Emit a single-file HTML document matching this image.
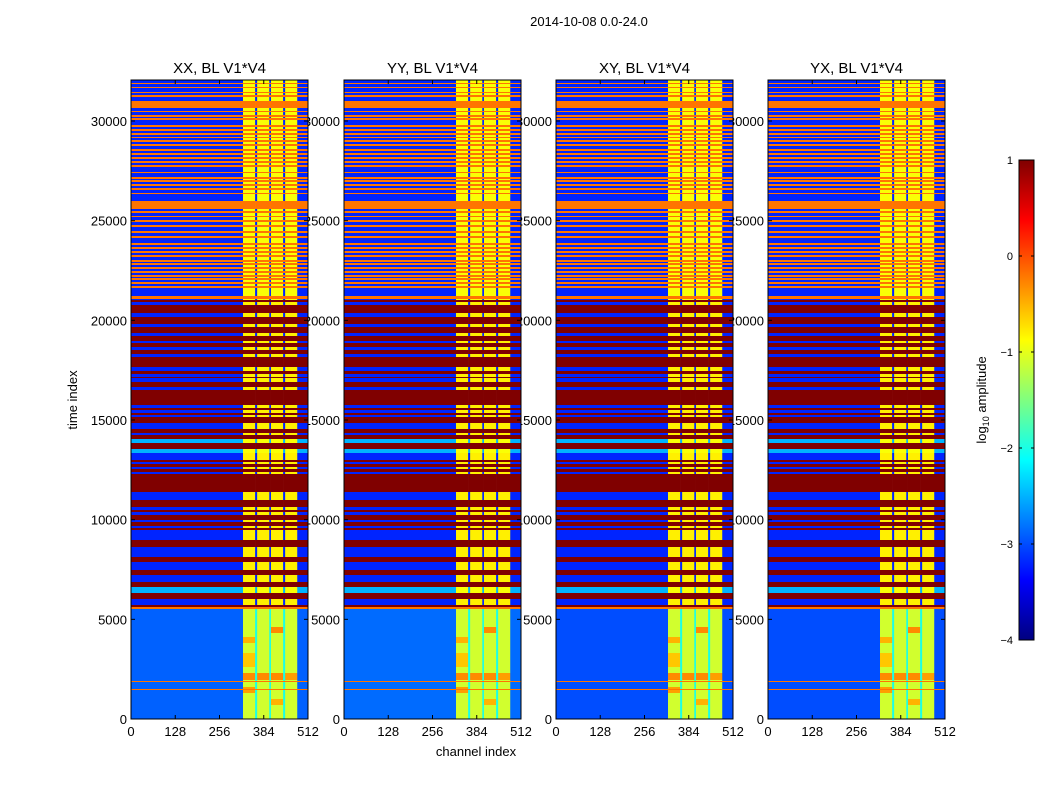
<!DOCTYPE html>
<html><head><meta charset="utf-8">
<style>
html,body{margin:0;padding:0;background:#fff;}
svg text{font-family:"Liberation Sans",sans-serif;}
</style></head>
<body>
<svg id="fig" width="1050" height="800" xmlns="http://www.w3.org/2000/svg">
<text x="589" y="26" font-size="13" text-anchor="middle">2014-10-08 0.0-24.0</text>
<g id="labels"></g>
<g id="maps"></g>
<g id="axes"></g>
<text x="476" y="756" font-size="13" text-anchor="middle">channel index</text>
<text transform="translate(77,400) rotate(-90)" font-size="13" text-anchor="middle">time index</text>
<g id="cbar"></g>
<text transform="translate(986,400) rotate(-90)" font-size="13" text-anchor="middle">log<tspan font-size="9" dy="3">10</tspan><tspan dy="-3"> amplitude</tspan></text>
</svg>
<script>
// ---- data ----
const panelTitles = ["XX, BL V1*V4","YY, BL V1*V4","XY, BL V1*V4","YX, BL V1*V4"];
const xTicks = [0,128,256,384,512];
const yTicks = [0,5000,10000,15000,20000,25000,30000];
const cbTicks = [1,0,-1,-2,-3,-4];
const regionTop = [21000, 32100];
const regionMid = [5500, 21000];
const orangeStripes = [31841,31640,31389,31222,30436,30202,30052,29717,29517,29299,29132,28965,28747,28513,28296,28095,27912,27711,27376,27092,26958,26758,26540,26323,25370,25169,24952,24701,24367,24116,23782,23564,23364,23197,22946,22779,22561,22361,22160,22026,21825,21608];
const orangeBands = [[30637,31005],[25571,26005],[21090,21223],[5504,5638],[1430,1480],[1850,1890]];
const blueBands = [[20755,20900],[20150,20354],[19685,19800],[19200,19351],[18850,18950],[18500,18682],[18180,18300],[17450,17678],[17177,17300],[16900,17094],[16509,16650],[15586,15753],[15368,15502],[15168,15268],[14666,14834],[14533,14633],[14248,14332],[12994,13329],[12794,12911],[12526,12660],[12292,12409],[10988,11406],[10486,10654],[10236,10403],[9901,9985],[9600,9684],[9040,9483],[8982,9010],[8146,8647],[7477,7895],[6892,7226],[5700,6005]];
const lightBands = [[13864,14031],[13329,13529],[6306,6641]];
const blobs = [[0,1960,2300,-0.3],[1,1960,2300,-0.3],[2,1960,2300,-0.3],[3,1960,2300,-0.4],[0,1290,1625,-0.4],[2,4300,4634,-0.3],[0,3800,4133,-0.5],[2,700,1000,-0.5],[0,2600,3300,-0.6]];
const levels = {topBlue:-3.2, orange:-0.2, darkRed:1.0, midBlue:-3.2, light:-2.5, bottom:-2.9,
  brightTop:-0.9, brightMid:-0.8, brightBottom:-1.1, gapBottom:-2.0};
const brightCols = [[324,359],[364,400],[404,440],[445,480]];
const gaps = [[359,364],[400,404],[440,445]];
const panelBottomShift = [0,0.05,-0.1,-0.1];

// ---- layout ----
const panelX = [131,344,556,768], panelW = 177, pTop = 80, pBot = 719;
const yScale = t => pBot - t*(598/30000);
const xScaleF = p => c => panelX[p] + c*panelW/512;
const tOfY = y => (pBot - y)/(598/30000);
function jet(v){
  let x = Math.max(0,Math.min(1,(v+4)/5));
  const c = k => Math.round(255*Math.max(0,Math.min(1,1.5-Math.abs(4*x-k))));
  return `rgb(${c(3)},${c(2)},${c(1)})`;
}
const inB = (t,arr) => arr.some(b => t>=b[0] && t<b[1]);
function bgVal(t,p){
  if (inB(t,orangeBands)) return levels.orange;
  if (t>=regionTop[0]){
    if (orangeStripes.some(s => t>=s && t<s+90)) return levels.orange;
    return levels.topBlue;
  }
  if (t>=regionMid[0]){
    if (inB(t,lightBands)) return levels.light;
    if (inB(t,blueBands)) return levels.midBlue;
    return levels.darkRed;
  }
  return levels.bottom + panelBottomShift[p];
}
function brightVal(t,bg,ci){
  if (t<regionMid[0] && bg!==levels.orange){
    const b = blobs.find(b => b[0]===ci && t>=b[1] && t<b[2]);
    return b ? b[3] : levels.brightBottom;
  }
  if (bg===levels.orange || bg===levels.darkRed) return bg;
  if (t>=regionTop[0]) return levels.brightTop;
  if (bg===levels.light) return -0.9;
  return levels.brightMid;
}
function gapVal(t,bg){ return (t<regionMid[0] && bg!==levels.orange) ? levels.gapBottom : bg; }

const NS="http://www.w3.org/2000/svg";
function mk(tag,attrs,parent){const e=document.createElementNS(NS,tag);for(const k in attrs)e.setAttribute(k,attrs[k]);parent.appendChild(e);return e;}
const maps=document.getElementById('maps'), axes=document.getElementById('axes'), labels=document.getElementById('labels');

for (let p=0;p<4;p++){
  const xs = xScaleF(p);
  const segs = [{c:[0,324],f:(t,bg)=>bg},{c:[480,512],f:(t,bg)=>bg}];
  brightCols.forEach((c,ci)=>segs.push({c:c,f:(t,bg)=>brightVal(t,bg,ci)}));
  gaps.forEach(c=>segs.push({c:c,f:(t,bg)=>gapVal(t,bg)}));
  const g = mk('g',{},maps);
  
  
  segs.forEach(s=>{
    let runStart=pTop, runVal=null;
    for (let y=pTop;y<=pBot;y++){
      let v=null;
      if (y<pBot){ const t=tOfY(y+0.5); v=s.f(t,bgVal(t,p)); }
      if (v!==runVal){
        if (runVal!==null){
          const r=mk('rect',{x:xs(s.c[0]),y:runStart,width:xs(s.c[1])-xs(s.c[0])+0.3,height:y-runStart,fill:jet(runVal)},g);
          
          
        }
        runStart=y; runVal=v;
      }
    }
  });
  const fr=mk('rect',{x:panelX[p],y:pTop,width:panelW,height:pBot-pTop,fill:'none',stroke:'#000','stroke-width':1},axes);
  
  
  const tt=mk('text',{x:panelX[p]+panelW/2,y:73,'font-size':15,'text-anchor':'middle'},axes);
  tt.textContent=panelTitles[p];
  
  
  xTicks.forEach(v=>{
    const x=xs(v);
    mk('line',{x1:x,x2:x,y1:pBot,y2:pBot-4,stroke:'#000'},axes);
    mk('line',{x1:x,x2:x,y1:pTop,y2:pTop+4,stroke:'#000'},axes);
    const l=mk('text',{x:x,y:736,'font-size':13,'text-anchor':'middle'},axes);
    l.textContent=v;
    
    
  });
  yTicks.forEach(v=>{
    const y=yScale(v);
    mk('line',{x1:panelX[p],x2:panelX[p]+4,y1:y,y2:y,stroke:'#000'},axes);
    mk('line',{x1:panelX[p]+panelW,x2:panelX[p]+panelW-4,y1:y,y2:y,stroke:'#000'},axes);
    const l=mk('text',{x:panelX[p]-4,y:y+5,'font-size':13,'text-anchor':'end'},labels);
    l.textContent=v;
    
    
  });
}
const cb=document.getElementById('cbar');
const cbX=1019,cbW=15,cbTop=160,cbBot=640;
const cbY = v => cbBot - (v+4)*(cbBot-cbTop)/5;
for (let y=cbTop;y<cbBot;y++){
  const v = -4 + (cbBot-y-0.5)/(cbBot-cbTop)*5;
  const r=mk('rect',{x:cbX,y:y,width:cbW,height:1.2,fill:jet(v)},cb);
  
  
}
mk('rect',{x:cbX,y:cbTop,width:cbW,height:cbBot-cbTop,fill:'none',stroke:'#000'},cb);
cbTicks.forEach(v=>{
  const y=cbY(v);
  mk('line',{x1:cbX,x2:cbX+3,y1:y,y2:y,stroke:'#000'},cb);
  mk('line',{x1:cbX+cbW,x2:cbX+cbW-3,y1:y,y2:y,stroke:'#000'},cb);
  const l=mk('text',{x:1013,y:y+4,'font-size':11,'text-anchor':'end'},cb);
  l.textContent=(v<0?'\u2212':'')+Math.abs(v);
  
  
});
</script>
</body></html>
